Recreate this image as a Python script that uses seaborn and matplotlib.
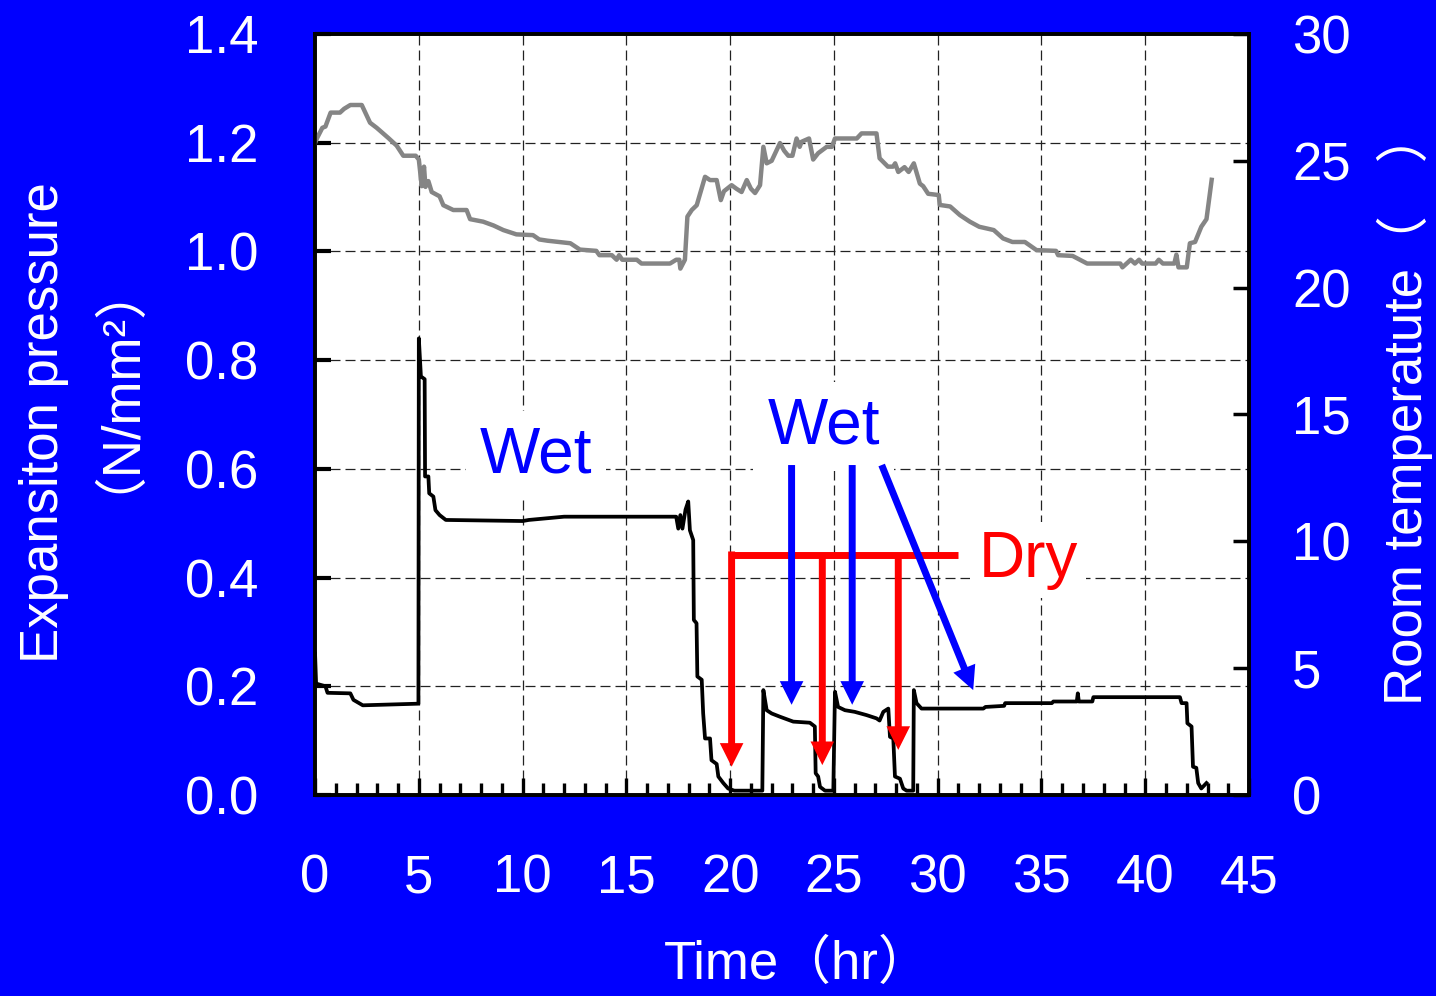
import matplotlib
matplotlib.use("Agg")
import matplotlib.pyplot as plt
import seaborn as sns
from matplotlib.ticker import MultipleLocator, FormatStrFormatter

# ---------------- data ----------------
pressure_t = [0.0, 0.05, 0.5, 0.6, 1.7, 1.85, 2.3, 4.98, 5.0, 5.1, 5.28, 5.3, 5.46, 5.5,
              5.7, 5.8, 6.0, 6.3, 10.0, 10.3, 12.0, 17.4, 17.5, 17.6, 17.7, 17.85, 17.98,
              18.06, 18.22, 18.25, 18.38, 18.42, 18.63, 18.7, 18.79, 19.03, 19.1, 19.35,
              19.43, 19.67, 19.9, 20.2, 21.55, 21.6, 21.76, 22.0, 22.4, 23.04, 23.84, 24.08,
              24.12, 24.24, 24.33, 24.57, 24.97, 25.05, 25.2, 25.53, 26.0, 26.57, 27.05,
              27.2, 27.38, 27.62, 27.7, 27.86, 27.94, 28.18, 28.34, 28.5, 28.82, 28.85,
              28.98, 29.22, 32.2, 32.3, 33.2, 33.25, 35.5, 35.57, 36.7, 36.75, 36.8, 37.45,
              37.5, 41.67, 41.75, 41.99, 42.03, 42.23, 42.3, 42.46, 42.55, 42.7, 42.95]
pressure_val = [0.26, 0.205, 0.2, 0.188, 0.187, 0.175, 0.165, 0.168, 0.84, 0.77, 0.765,
                0.586, 0.586, 0.555, 0.549, 0.524, 0.515, 0.506, 0.504, 0.506, 0.512, 0.512,
                0.49, 0.515, 0.49, 0.525, 0.54, 0.487, 0.469, 0.322, 0.316, 0.218, 0.212,
                0.15, 0.104, 0.104, 0.064, 0.057, 0.034, 0.022, 0.012, 0.008, 0.008, 0.193,
                0.156, 0.15, 0.144, 0.135, 0.133, 0.126, 0.04, 0.034, 0.015, 0.008, 0.008,
                0.19, 0.162, 0.156, 0.153, 0.147, 0.141, 0.137, 0.153, 0.159, 0.107, 0.104,
                0.034, 0.03, 0.012, 0.008, 0.008, 0.193, 0.169, 0.159, 0.159, 0.162, 0.164,
                0.169, 0.169, 0.172, 0.172, 0.187, 0.172, 0.172, 0.18, 0.18, 0.169, 0.169,
                0.132, 0.126, 0.052, 0.05, 0.022, 0.012, 0.022]

temp_t = [0.0, 0.1, 0.35, 0.5, 0.75, 1.2, 1.4, 1.7, 2.25, 2.65, 2.97, 3.53, 3.93, 4.25, 4.85,
          5.0, 5.14, 5.25, 5.32, 5.46, 5.62, 6.0, 6.18, 6.66, 7.3, 7.47, 8.1, 8.6, 9.07, 9.7,
          10.5, 10.8, 11.2, 12.3, 12.76, 13.55, 13.7, 14.3, 14.53, 14.65, 14.8, 15.5, 15.73,
          17.1, 17.4, 17.55, 17.6, 17.82, 17.94, 18.15, 18.39, 18.55, 18.79, 19.03, 19.35,
          19.55, 19.7, 20.07, 20.3, 20.55, 20.8, 21.0, 21.2, 21.44, 21.6, 21.76, 22.0, 22.4,
          22.6, 22.8, 23.0, 23.2, 23.35, 23.44, 23.8, 24.0, 24.24, 24.65, 24.9, 25.05, 26.1,
          26.33, 27.05, 27.2, 27.6, 27.85, 27.95, 28.1, 28.4, 28.6, 28.85, 29.14, 29.3, 29.54,
          30.05, 30.1, 30.6, 31.07, 31.55, 32.0, 32.7, 33.15, 33.6, 34.2, 34.76, 35.7, 35.8,
          36.5, 37.2, 38.8, 38.9, 39.3, 39.5, 39.7, 39.85, 40.5, 40.65, 40.85, 41.4, 41.5,
          41.6, 42.0, 42.15, 42.4, 42.7, 42.95, 43.2]
temp_val = [25.7, 25.9, 26.3, 26.35, 26.9, 26.9, 27.05, 27.2, 27.2, 26.5, 26.3, 25.9, 25.6,
            25.2, 25.2, 25.05, 24.0, 24.77, 23.97, 24.2, 23.77, 23.6, 23.25, 23.06, 23.06,
            22.7, 22.6, 22.45, 22.27, 22.1, 22.07, 21.9, 21.85, 21.75, 21.5, 21.45, 21.28,
            21.28, 21.1, 21.28, 21.1, 21.1, 20.95, 20.95, 21.1, 21.1, 20.75, 21.1, 22.8,
            23.06, 23.25, 23.7, 24.37, 24.24, 24.24, 23.45, 23.8, 24.04, 23.9, 23.77, 24.24,
            23.9, 23.73, 24.04, 25.55, 24.9, 25.0, 25.7, 25.4, 25.2, 25.2, 25.88, 25.55,
            25.75, 25.88, 25.05, 25.3, 25.55, 25.55, 25.88, 25.88, 26.08, 26.08, 25.1, 24.77,
            24.77, 24.9, 24.56, 24.75, 24.56, 24.9, 24.1, 24.0, 23.7, 23.65, 23.26, 23.2,
            22.86, 22.6, 22.4, 22.27, 21.94, 21.8, 21.8, 21.48, 21.45, 21.28, 21.25, 20.95,
            20.95, 20.8, 21.1, 20.95, 21.1, 20.95, 20.95, 21.1, 20.95, 20.95, 21.3, 20.8,
            20.8, 21.75, 21.8, 22.4, 22.7, 24.25]

x_ticks = [0, 5, 10, 15, 20, 25, 30, 35, 40, 45]
left_ticks = [0.0, 0.2, 0.4, 0.6, 0.8, 1.0, 1.2, 1.4]
right_ticks = [0, 5, 10, 15, 20, 25, 30]

# annotation anchors (data coordinates)
wet_labels = [(10.65, 0.625), (24.5, 0.678)]
dry_label = (34.35, 0.432)
dry_bar = (19.94, 30.97, 0.4415)
dry_arrows = [(20.07, 0.448, 0.052), (24.44, 0.4415, 0.055), (28.1, 0.4415, 0.083)]
wet_arrows = [((22.96, 0.607), (22.96, 0.166)),
              ((25.88, 0.607), (25.88, 0.166)),
              ((27.3, 0.607), (31.71, 0.193))]

# ---------------- style ----------------
plt.rcParams['font.family'] = ['Liberation Sans', 'Noto Sans CJK JP']
BLUE = '#0000FF'
RED = '#FF0000'

fig = plt.figure(figsize=(14.36, 9.96), dpi=100)
fig.patch.set_facecolor(BLUE)
ax = fig.add_axes([0.2194, 0.2018, 0.6504, 0.7641])
ax.set_facecolor('white')

sns.lineplot(x=pressure_t, y=pressure_val, ax=ax, color='black', lw=2.7,
             estimator=None, sort=False, zorder=3)

ax.set_xlim(0, 45)
ax.set_ylim(0, 1.4)
ax.set_xticks(x_ticks)
ax.set_yticks(left_ticks)
ax.xaxis.set_minor_locator(MultipleLocator(1))
ax.yaxis.set_major_formatter(FormatStrFormatter('%.1f'))
ax.grid(True, which='major', linestyle=(0, (8, 4)), color='#222222', lw=0.9)
ax.set_axisbelow(True)

ax.tick_params(axis='x', which='major', direction='in', length=12.5, width=2.4,
               color='black', labelcolor='white', labelsize=38, pad=42)
ax.tick_params(axis='x', which='minor', direction='in', length=9, width=2.4, color='black')
ax.tick_params(axis='y', which='major', direction='in', length=11.5, width=3,
               color='black', labelcolor='white', labelsize=38, pad=41)

ax.set_xlabel('Time（hr）', color='white', fontsize=38)
ax.xaxis.set_label_coords(0.517, -0.2234)
ax.xaxis.label.set_va('center')
ax.set_ylabel('Expansiton pressure', color='white', fontsize=38)
ax.yaxis.set_label_coords(-0.290, 0.49)
ax.yaxis.label.set_va('center')
ax.text(-0.241, 0.570, '（N/mm²）', transform=ax.transAxes, rotation=90, color='white',
        fontsize=38, ha='center', va='center', rotation_mode='anchor')

# twin axis: room temperature
ax2 = ax.twinx()
sns.lineplot(x=temp_t, y=temp_val, ax=ax2, color='#858585', lw=3.2,
             estimator=None, sort=False)
ax2.set_ylim(0, 30)
ax2.set_yticks(right_ticks)
ax2.tick_params(axis='y', direction='in', length=11.5, width=2.5, color='black',
                labelcolor='white', labelsize=38, pad=31)
ax2.set_ylabel('Room temperatute（\u3000）', color='white', fontsize=38)
ax2.yaxis.set_label_coords(1.167, 0.51)
ax2.yaxis.label.set_va('center')

for a in (ax, ax2):
    for s in a.spines.values():
        s.set_color('black')
        s.set_linewidth(2.6)

# annotations
for (tx, ty) in wet_labels:
    ax.text(tx, ty, 'Wet', color=BLUE, fontsize=46, ha='center', va='center', zorder=4,
            bbox=dict(fc='white', ec='none', pad=10))
ax.text(dry_label[0], dry_label[1], 'Dry', color=RED, fontsize=46, ha='center', va='center',
        zorder=4, bbox=dict(fc='white', ec='none', pad=6))

ax.plot([dry_bar[0], dry_bar[1]], [dry_bar[2], dry_bar[2]], color=RED, lw=5,
        solid_capstyle='butt', zorder=5)

arrow_style = 'simple,head_length=0.85,head_width=0.85,tail_width=0.25'
for (xa, y0, y1) in dry_arrows:
    ax.annotate('', xy=(xa, y1), xytext=(xa, y0),
                arrowprops=dict(arrowstyle=arrow_style, mutation_scale=20, fc=RED,
                                ec='none', lw=0, shrinkA=0, shrinkB=0), zorder=5)
for (p0, p1) in wet_arrows:
    ax.annotate('', xy=p1, xytext=p0,
                arrowprops=dict(arrowstyle=arrow_style, mutation_scale=20, fc=BLUE,
                                ec='none', lw=0, shrinkA=0, shrinkB=0), zorder=5)

fig.savefig('out.png', dpi=100, facecolor=fig.get_facecolor())
